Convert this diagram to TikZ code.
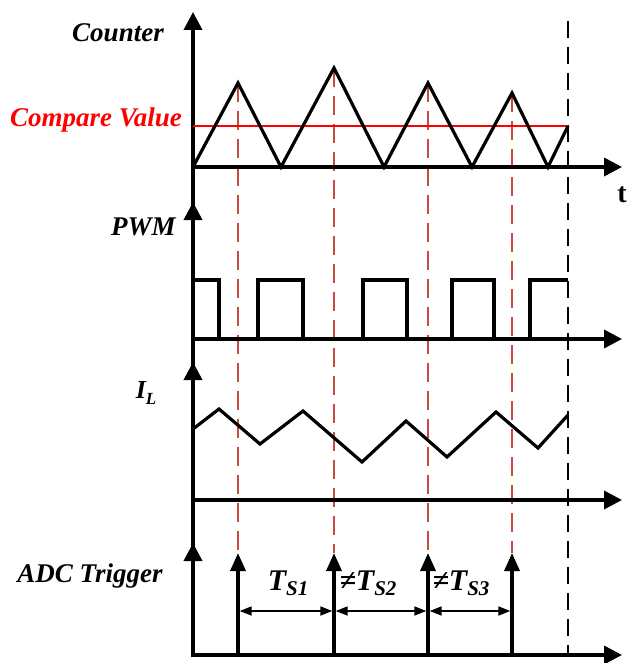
\documentclass[tikz,border=0pt]{standalone}
\usepackage{fontspec}
\setmainfont{Liberation Serif}
\usetikzlibrary{arrows.meta}
\definecolor{dashred}{RGB}{200,75,65}
\begin{document}
\begin{tikzpicture}[x=1pt,y=-1pt,
  axis/.style={line width=3.6pt,-{Triangle[length=18pt,width=18pt]}},
  wave/.style={line width=3.2pt,line join=miter},
  reddash/.style={draw=dashred,line width=2.2pt,dash pattern=on 19pt off 9pt},
  blackdash/.style={line width=2.2pt,dash pattern=on 17pt off 9pt},
  trig/.style={line width=3.4pt,-{Triangle[length=18pt,width=15pt]}},
  dim/.style={line width=1.7pt,{Triangle[length=12pt,width=9pt]}-{Triangle[length=12pt,width=9pt]}},
  lab/.style={font=\fontsize{27}{27}\selectfont\bfseries\itshape,inner sep=0pt,anchor=base}]
\useasboundingbox (0,0) rectangle (628,663);
% named points
\coordinate (p1) at (238,83);
\coordinate (p2) at (334,68);
\coordinate (p3) at (428,83);
\coordinate (p4) at (512,93);
\coordinate (a1) at (238,553);
\coordinate (a2) at (334,553);
\coordinate (a3) at (428,553);
\coordinate (a4) at (512,553);
\coordinate (b1) at (238,655);
\coordinate (b2) at (334,655);
\coordinate (b3) at (428,655);
\coordinate (b4) at (512,655);
% red dashed guides
\foreach \i in {1,2,3,4} \draw[reddash] (p\i) -- (a\i);
% black dashed end line
\coordinate (e1) at (568,21);
\coordinate (e2) at (568,655);
\draw[blackdash] (e1) -- (e2);
% main vertical axis
\draw[axis] (193,656.8) -- (193,12);
\draw[axis] (193,240) -- (193,202);
\draw[axis] (193,400) -- (193,362);
\draw[axis] (193,580) -- (193,543);
% horizontal axes
\draw[axis] (191.2,167) -- (622,167);
\draw[axis] (191.2,339) -- (622,339);
\draw[axis] (191.2,500) -- (622,500);
\draw[axis] (191.2,655) -- (622,655);
% compare value
\draw[red,line width=2pt] (193,126) -- (568,126);
% counter
\draw[wave] (193,167) -- (p1) -- (281,167) -- (p2) -- (384,167) -- (p3) -- (472,167) -- (p4) -- (548,167) -- (568,126);
% PWM
\draw[wave] (193,280) -- (219,280) -- (219,339);
\draw[wave] (258,339) -- (258,280) -- (303,280) -- (303,339);
\draw[wave] (363,339) -- (363,280) -- (407,280) -- (407,339);
\draw[wave] (452,339) -- (452,280) -- (494,280) -- (494,339);
\draw[wave] (530,339) -- (530,280) -- (568,280);
% I_L
\draw[wave] (193,429) -- (219,409) -- (260,444) -- (303,411) -- (362,462) -- (406,421) -- (447,457) -- (496,412) -- (538,448) -- (568,415);
% ADC triggers
\foreach \i in {1,2,3,4} \draw[trig] (b\i) -- (a\i);
\draw[dim] (239.7,611) -- (332.3,611);
\draw[dim] (335.7,611) -- (426.3,611);
\draw[dim] (429.7,611) -- (510.3,611);
% labels
\node[lab] (counter) at (118,42) {Counter};
\node[lab,text=red] (cmp) at (96,127) {Compare Value};
\node[lab] (pwm) at (143.5,235) {PWM};
\node[lab,font=\fontsize{26}{26}\selectfont\bfseries\itshape] (il) at (146,398) {I\raisebox{-6pt}{\fontsize{17}{17}\selectfont L}};
\node[lab] (adc) at (90,582) {ADC Trigger};
\node[inner sep=0pt,anchor=base,font=\fontsize{28}{28}\selectfont\bfseries] (t) at (622,202) {t};
\node[lab,font=\fontsize{30}{30}\selectfont\bfseries\itshape] (ts1) at (288,590) {T\raisebox{-5pt}{\fontsize{21}{21}\selectfont S1}};
\node[lab,font=\fontsize{30}{30}\selectfont\bfseries\itshape] (ts2) at (368,590) {≠T\raisebox{-5pt}{\fontsize{21}{21}\selectfont S2}};
\node[lab,font=\fontsize{30}{30}\selectfont\bfseries\itshape] (ts3) at (461,590) {≠T\raisebox{-5pt}{\fontsize{21}{21}\selectfont S3}};
\end{tikzpicture}
\end{document}
